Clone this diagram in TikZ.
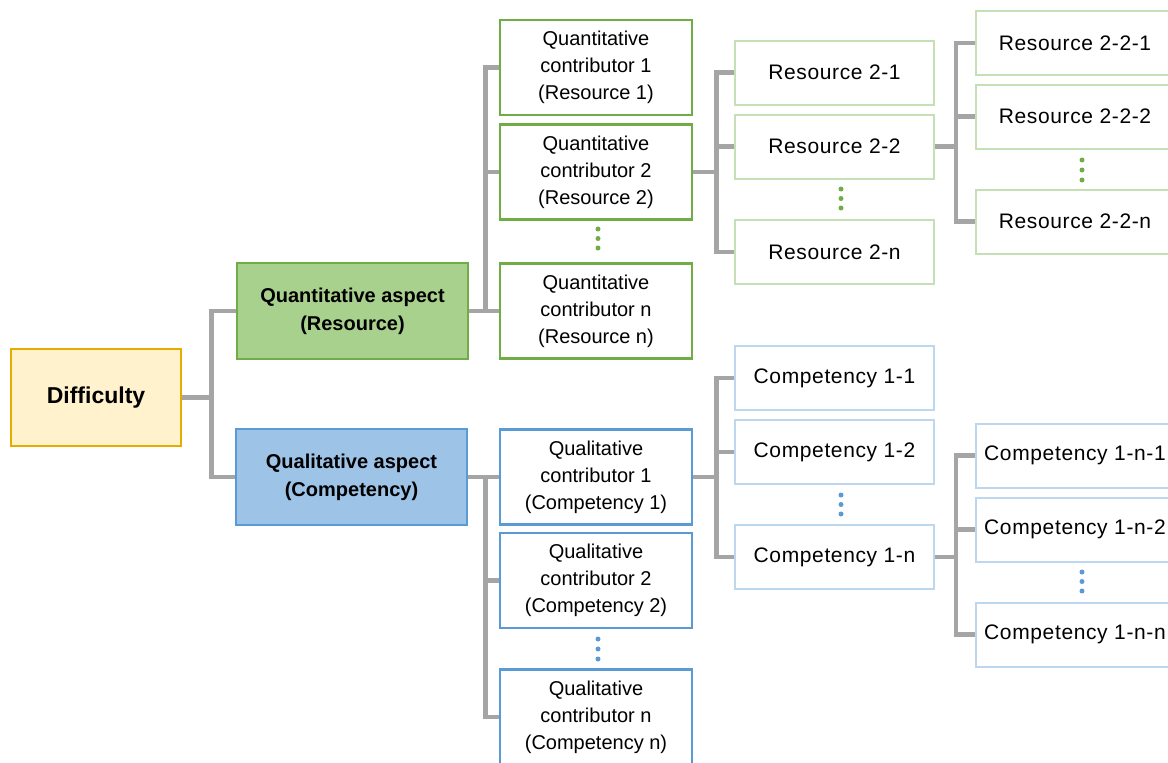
\documentclass[tikz,border=0pt]{standalone}
\usepackage{fontspec}
\usetikzlibrary{backgrounds}
\setmainfont{Liberation Sans}
\newfontfamily\leaffont[LetterSpace=3]{Liberation Sans}
\definecolor{gconn}{HTML}{A5A5A5}
\definecolor{gdark}{HTML}{70AD47}
\definecolor{gfill}{HTML}{A9D18E}
\definecolor{glight}{HTML}{C5E0B4}
\definecolor{bdark}{HTML}{5B9BD5}
\definecolor{bfill}{HTML}{9DC3E6}
\definecolor{blight}{HTML}{BDD7EE}
\definecolor{yfill}{HTML}{FFF2CC}
\definecolor{ydark}{HTML}{E6AC00}
\tikzset{
  box/.style={draw, rectangle, inner sep=0pt, align=center, text=black},
  rootbox/.style={box, draw=ydark, fill=yfill, line width=2.5pt, minimum width=170pt, minimum height=97pt, font=\fontsize{23}{28}\selectfont\bfseries},
  qabox/.style={box, draw=gdark, fill=gfill, line width=2.5pt, minimum width=231pt, minimum height=96pt, font=\fontsize{20}{28}\selectfont\bfseries},
  qlabox/.style={box, draw=bdark, fill=bfill, line width=2.5pt, minimum width=231pt, minimum height=96pt, font=\fontsize{20}{28}\selectfont\bfseries},
  gcbox/.style={box, draw=gdark, fill=white, line width=2.5pt, minimum width=192pt, minimum height=95pt, font=\fontsize{20}{27}\selectfont},
  bcbox/.style={box, draw=bdark, fill=white, line width=2.5pt, minimum width=192pt, minimum height=95pt, font=\fontsize{20}{27}\selectfont},
  gleaf/.style={box, draw=glight, fill=white, line width=2pt, minimum width=199pt, minimum height=64pt, font=\leaffont\fontsize{21}{26}\selectfont},
  bleaf/.style={box, draw=blight, fill=white, line width=2pt, minimum width=199pt, minimum height=64pt, font=\leaffont\fontsize{21}{26}\selectfont},
  conn/.style={draw=gconn, line width=4.5pt, line join=miter},
  gdot/.style={circle, fill=gdark, inner sep=0pt, minimum size=5pt},
  bdot/.style={circle, fill=bdark, inner sep=0pt, minimum size=5pt}
}
\begin{document}
\begin{tikzpicture}[x=1pt, y=-1pt]
\useasboundingbox (0,0) rectangle (1168,763);
\clip (0,0) rectangle (1168,763);

% nodes
\node[rootbox] (diff) at (96,397.5) {Difficulty};
\node[qabox] (qa) at (352.5,311) {Quantitative aspect\\(Resource)};
\node[qlabox] (qla) at (351.5,477) {Qualitative aspect\\(Competency)};

\node[gcbox] (qc1) at (596,67.5) {Quantitative\\contributor 1\\(Resource 1)};
\node[gcbox] (qc2) at (596,172) {Quantitative\\contributor 2\\(Resource 2)};
\node[gcbox] (qcn) at (596,311) {Quantitative\\contributor n\\(Resource n)};

\node[bcbox] (ql1) at (596,477) {Qualitative\\contributor 1\\(Competency 1)};
\node[bcbox] (ql2) at (596,580.5) {Qualitative\\contributor 2\\(Competency 2)};
\node[bcbox] (qln) at (596,717) {Qualitative\\contributor n\\(Competency n)};

\node[gleaf] (r21) at (834.5,72.5) {Resource 2-1};
\node[gleaf] (r22) at (834.5,146.5) {Resource 2-2};
\node[gleaf] (r2n) at (834.5,252) {Resource 2-n};

\node[bleaf] (c11) at (834.5,378) {Competency 1-1};
\node[bleaf] (c12) at (834.5,452) {Competency 1-2};
\node[bleaf] (c1n) at (834.5,557) {Competency 1-n};

\node[gleaf] (r221) at (1075,43) {Resource 2-2-1};
\node[gleaf] (r222) at (1075,116.5) {Resource 2-2-2};
\node[gleaf] (r22n) at (1075,221.5) {Resource 2-2-n};

\node[bleaf] (c1n1) at (1075,455.5) {Competency 1-n-1};
\node[bleaf] (c1n2) at (1075,529.5) {Competency 1-n-2};
\node[bleaf] (c1nn) at (1075,634.5) {Competency 1-n-n};

% connectors
\begin{scope}[on background layer]
\path[conn] (diff.east) -- ++(29,0) |- (qa.west);
\path[conn] (diff.east) -- ++(29,0) |- (qla.west);

\path[conn] (qa.east) -- ++(16,0) |- (qc1.west);
\path[conn] (qa.east) -- ++(16,0) |- (qc2.west);
\path[conn] (qa.east) -- (qcn.west);

\path[conn] (qla.east) -- (ql1.west);
\path[conn] (qla.east) -- ++(17,0) |- (ql2.west);
\path[conn] (qla.east) -- ++(17,0) |- (qln.west);

\path[conn] (qc2.east) -- ++(23,0) |- (r21.west);
\path[conn] (qc2.east) -- ++(23,0) |- (r22.west);
\path[conn] (qc2.east) -- ++(23,0) |- (r2n.west);

\path[conn] (ql1.east) -- ++(23,0) |- (c11.west);
\path[conn] (ql1.east) -- ++(23,0) |- (c12.west);
\path[conn] (ql1.east) -- ++(23,0) |- (c1n.west);

\path[conn] (r22.east) -- ++(21,0) |- (r221.west);
\path[conn] (r22.east) -- ++(21,0) |- (r222.west);
\path[conn] (r22.east) -- ++(21,0) |- (r22n.west);

\path[conn] (c1n.east) -- ++(21,0) |- (c1n1.west);
\path[conn] (c1n.east) -- ++(21,0) |- (c1n2.west);
\path[conn] (c1n.east) -- ++(21,0) |- (c1nn.west);
\end{scope}

% dots
\foreach \y in {229,238.5,248} \node[gdot] at (598,\y) {};
\foreach \y in {189,198.5,208} \node[gdot] at (841,\y) {};
\foreach \y in {160,170,180} \node[gdot] at (1082,\y) {};
\foreach \y in {639,649,659} \node[bdot] at (598,\y) {};
\foreach \y in {495,504.5,514} \node[bdot] at (841,\y) {};
\foreach \y in {572,581.5,591} \node[bdot] at (1082,\y) {};
\end{tikzpicture}
\end{document}
